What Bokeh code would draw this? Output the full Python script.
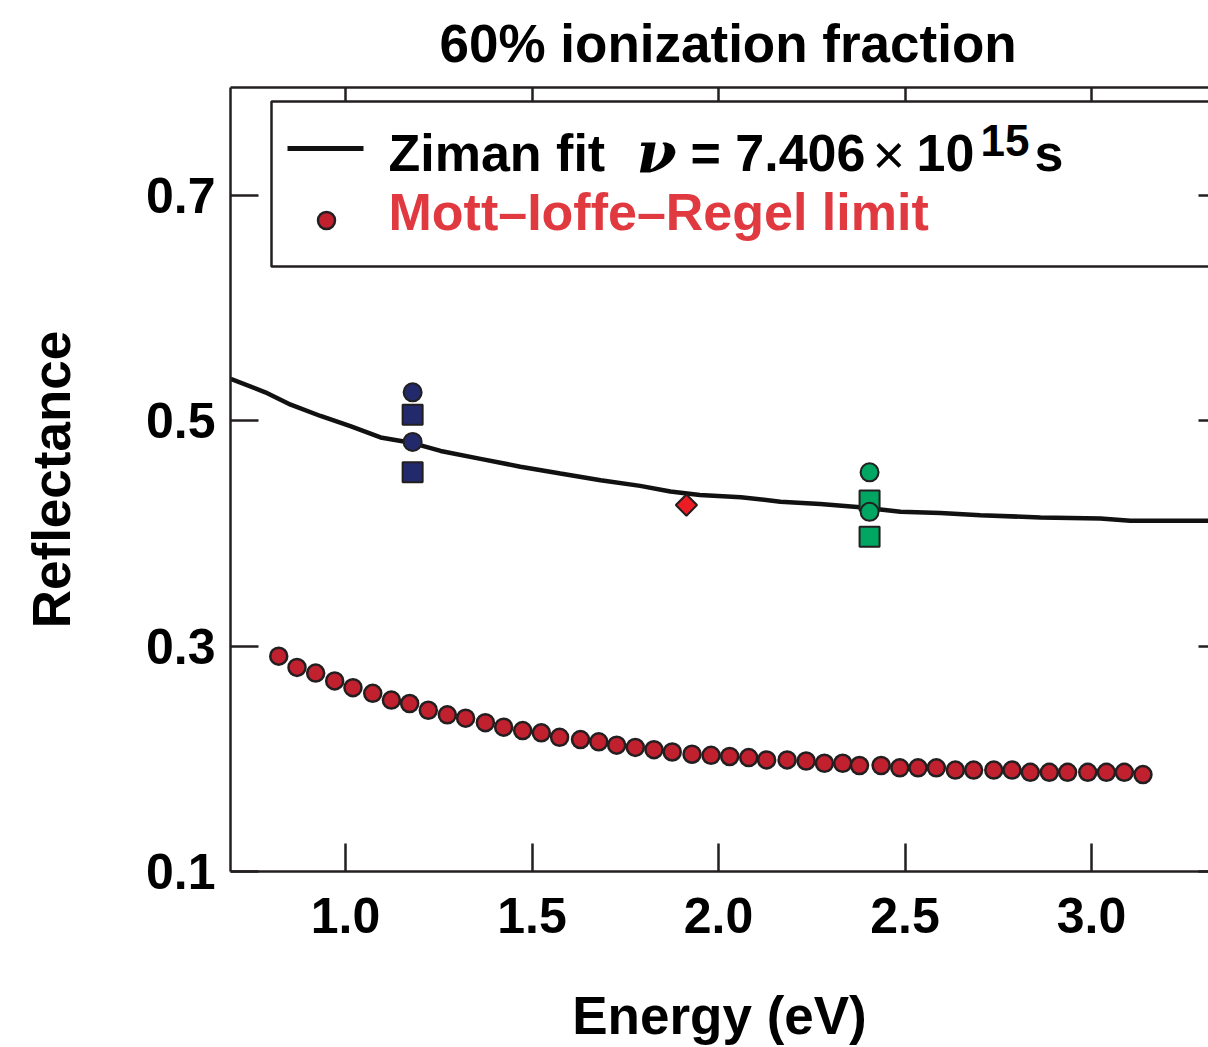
from bokeh.plotting import figure
from bokeh.models import (Range1d, LinearAxis, FixedTicker, Label, BoxAnnotation,
                          CustomLabelingPolicy)
from bokeh.embed import file_html
from bokeh.resources import INLINE

# ---------------- data ----------------
ziman_energy = [0.692, 0.785, 0.853, 0.933, 1.013, 1.094, 1.180, 1.255, 1.362, 1.469,
                1.576, 1.684, 1.790, 1.871, 1.950, 2.060, 2.166, 2.273, 2.380, 2.488,
                2.595, 2.702, 2.863, 3.024, 3.104, 3.320]
ziman_reflectance = [0.537, 0.525, 0.514, 0.504, 0.495, 0.485, 0.480, 0.473, 0.466, 0.459,
                     0.453, 0.447, 0.442, 0.437, 0.434, 0.432, 0.428, 0.426, 0.423, 0.419,
                     0.418, 0.416, 0.414, 0.413, 0.411, 0.411]

mir_energy = [0.821, 0.870, 0.920, 0.971, 1.020, 1.073, 1.123, 1.172, 1.222, 1.273,
              1.322, 1.375, 1.424, 1.475, 1.525, 1.574, 1.630, 1.679, 1.727, 1.777,
              1.827, 1.876, 1.929, 1.980, 2.030, 2.081, 2.129, 2.184, 2.235, 2.284,
              2.333, 2.378, 2.436, 2.486, 2.535, 2.584, 2.635, 2.684, 2.738, 2.787,
              2.836, 2.887, 2.936, 2.990, 3.040, 3.088, 3.138]
mir_reflectance = [0.291, 0.281, 0.276, 0.269, 0.263, 0.258, 0.252, 0.249, 0.243, 0.239,
                   0.236, 0.232, 0.228, 0.225, 0.223, 0.219, 0.217, 0.215, 0.212, 0.210,
                   0.208, 0.206, 0.204, 0.203, 0.202, 0.201, 0.199, 0.199, 0.198, 0.196,
                   0.196, 0.194, 0.194, 0.192, 0.192, 0.192, 0.190, 0.190, 0.190, 0.190,
                   0.188, 0.188, 0.188, 0.188, 0.188, 0.188, 0.186]

blue_circle_energy = [1.18, 1.18]
blue_circle_refl = [0.525, 0.481]
blue_square_energy = [1.18, 1.18]
blue_square_refl = [0.505, 0.454]
green_circle_energy = [2.405, 2.405]
green_circle_refl = [0.454, 0.419]
green_square_energy = [2.405, 2.405]
green_square_refl = [0.429, 0.397]
diamond_energy = [1.914]
diamond_refl = [0.425]

x_ticks = [1.0, 1.5, 2.0, 2.5, 3.0]
x_tick_labels = ["1.0", "1.5", "2.0", "2.5", "3.0"]
y_ticks = [0.1, 0.3, 0.5, 0.7]
y_tick_labels = ["0.1", "0.3", "0.5", "0.7"]

title_text = "60% ionization fraction"
x_label = "Energy (eV)"
y_label = "Reflectance"
legend_ziman_parts = ["Ziman fit", "\u03bd", "= 7.406", "\u00d7", "10", "15", "s"]
legend_mir_text = "Mott\u2013Ioffe\u2013Regel limit"

# ---------------- layout helpers (page pixel -> data coordinates) ----------------
def ex(px):
    return 1.0 + (px - 345) / 373.0

def ry(py):
    return 0.1 + (871 - py) / 1127.5

FONT = "Liberation Sans"
DARK = "#231f20"

p = figure(width=1208, height=1047,
           x_range=Range1d(ex(230), ex(1208)), y_range=Range1d(0.1, ry(87)),
           output_backend="svg", toolbar_location=None,
           min_border_left=230, min_border_right=0, min_border_top=87, min_border_bottom=176,
           title=title_text, x_axis_label=x_label, y_axis_label=y_label)
p.outline_line_color = None
p.grid.visible = False
p.background_fill_color = "white"
p.border_fill_color = "white"

p.title.text_font = FONT
p.title.text_font_size = "53px"
p.title.text_font_style = "bold"
p.title.text_color = "black"
p.title.align = "left"
p.title.offset = 209
p.title.vertical_align = "top"
p.title.standoff = 26

no_labels = CustomLabelingPolicy(code="""
const out = indices;
try { for (let i = 0; i < indices.size; i++) { out.unset(i) } } catch (e) {}
return out
""")

def style_axis(ax, ticks, labels, tick_in):
    ax.ticker = FixedTicker(ticks=ticks)
    ax.major_label_overrides = {t: l for t, l in zip(ticks, labels)}
    ax.major_tick_in = tick_in
    ax.major_tick_out = 0
    ax.minor_tick_line_color = None
    ax.major_tick_line_width = 2.5
    ax.major_tick_line_color = DARK
    ax.axis_line_width = 2.5
    ax.axis_line_color = DARK
    ax.major_label_text_font = FONT
    ax.major_label_text_font_size = "50px"
    ax.major_label_text_font_style = "bold"
    ax.major_label_text_color = "black"
    ax.axis_label_text_font = FONT
    ax.axis_label_text_font_size = "53px"
    ax.axis_label_text_font_style = "bold"
    ax.axis_label_text_color = "black"

xa = p.xaxis[0]
style_axis(xa, x_ticks, x_tick_labels, 28)
xa.major_label_standoff = 26
xa.axis_label_standoff = 50

ya = p.yaxis[0]
style_axis(ya, y_ticks, y_tick_labels, 28)
ya.major_label_standoff = 15
ya.axis_label_standoff = 62

top = LinearAxis()
style_axis(top, x_ticks, x_tick_labels, 14)
top.major_label_text_font_size = "0px"
top.major_label_standoff = 0
top.major_label_policy = no_labels
p.add_layout(top, "above")

right = LinearAxis()
style_axis(right, y_ticks, y_tick_labels, 10)
right.axis_line_color = None
right.major_label_text_font_size = "0px"
right.major_label_standoff = 0
right.major_label_policy = no_labels
p.add_layout(right, "right")

# ---------------- legend box (under the key glyphs) ----------------
p.add_layout(BoxAnnotation(left=ex(271), right=ex(1500), top=ry(101), bottom=ry(266),
                           fill_color="white", fill_alpha=1.0,
                           line_color=DARK, line_alpha=1.0, line_width=2.5,
                           level="underlay"))

# ---------------- glyphs ----------------
p.line(ziman_energy, ziman_reflectance, line_width=4.5, line_color="#111111")
p.scatter(mir_energy, mir_reflectance, size=17, fill_color="#c1202f",
          line_color=DARK, line_width=2.5)
p.scatter(blue_square_energy, blue_square_refl, marker="square", size=20,
          fill_color="#232a6c", line_color=DARK, line_width=2)
p.scatter(blue_circle_energy, blue_circle_refl, size=18,
          fill_color="#232a6c", line_color=DARK, line_width=2)
p.scatter(green_square_energy, green_square_refl, marker="square", size=20,
          fill_color="#00a661", line_color=DARK, line_width=2)
p.scatter(green_circle_energy, green_circle_refl, size=18,
          fill_color="#00a661", line_color=DARK, line_width=2)
p.scatter(diamond_energy, diamond_refl, marker="square", angle=0.785398, size=15,
          fill_color="#ec1c24", line_color=DARK, line_width=2)

# legend keys (layout positions of the keys inside the legend box)
p.line([ex(287), ex(363)], [ry(148), ry(148)], line_width=5, line_color="#111111")
p.scatter([ex(326)], [ry(220)], size=17, fill_color="#c1202f",
          line_color=DARK, line_width=2.5)

def add_text(text, px, py, size="52px", color="black", font=FONT, style="bold"):
    # py is the vertical centre of the capital letters
    p.add_layout(Label(x=ex(px), y=ry(py), text=text, text_font=font,
                       text_font_size=size, text_font_style=style, text_color=color,
                       text_align="left", text_baseline="middle", level="overlay"))

add_text(legend_ziman_parts[0], 388, 152)
add_text(legend_ziman_parts[1], 636, 152, size="58px", font="DejaVu Serif", style="bold italic")
add_text(legend_ziman_parts[2], 690, 152)
add_text(legend_ziman_parts[3], 872, 154, size="56px", style="normal")
add_text(legend_ziman_parts[4], 916, 152)
add_text(legend_ziman_parts[5], 980, 140, size="44px")
add_text(legend_ziman_parts[6], 1034, 152)
add_text(legend_mir_text, 388, 211, color="#e03a40")

open("out.html", "w").write(file_html(p, INLINE))
